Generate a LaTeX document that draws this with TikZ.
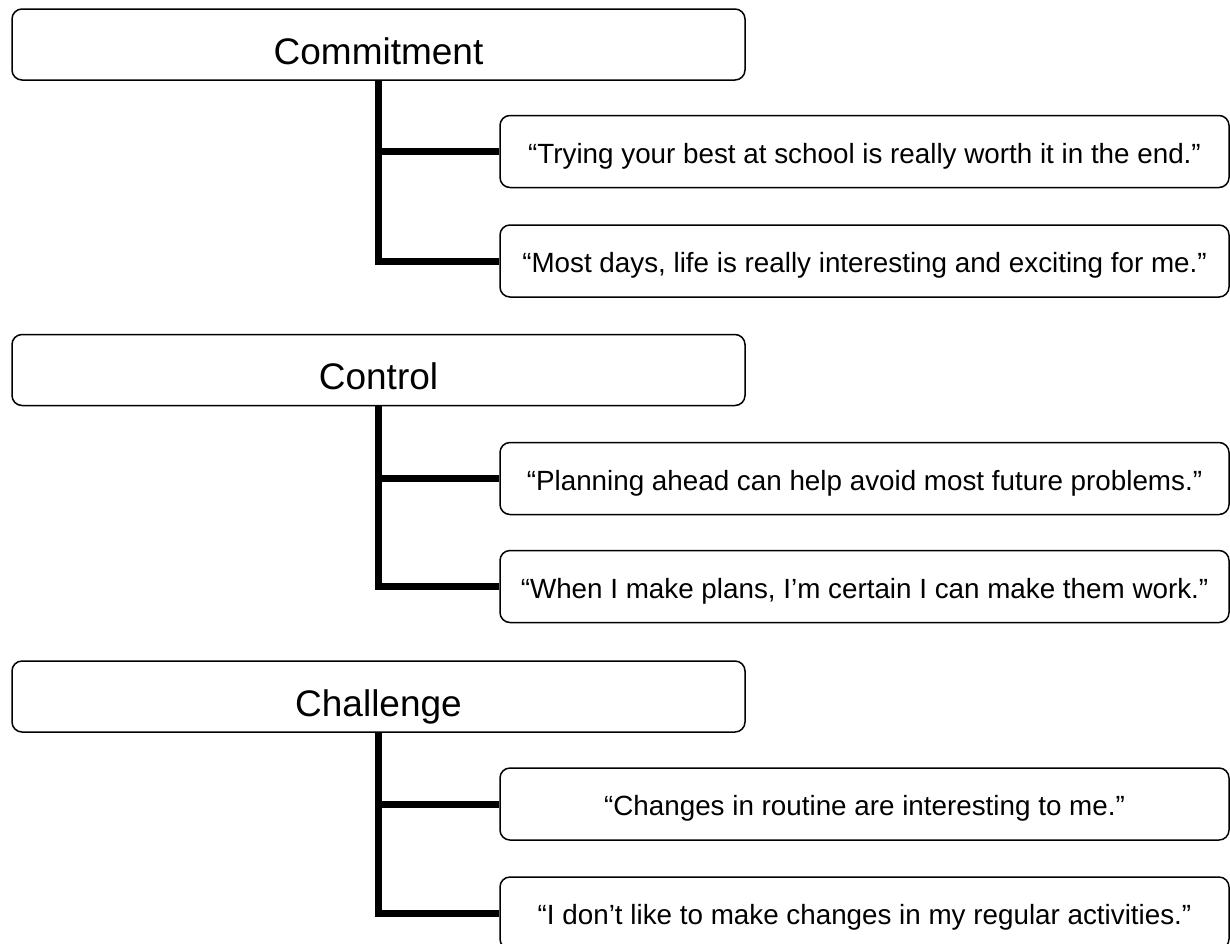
\documentclass[tikz,border=0pt]{standalone}
\usepackage{fontspec}
\setmainfont{Liberation Sans}
\begin{document}
\begin{tikzpicture}[x=1pt,y=-1pt,
  hdr/.style={draw, line width=1.5pt, rounded corners=10pt, minimum width=733pt,
    minimum height=71pt, inner sep=0pt, font=\fontsize{37}{44}\selectfont,
    text height=39pt, text depth=0pt},
  itm/.style={draw, line width=1.5pt, rounded corners=10pt, minimum width=729pt,
    minimum height=72pt, inner sep=0pt, font=\fontsize{27.8}{33}\selectfont,
    text height=23pt, text depth=0pt},
  conn/.style={line width=7pt, line join=miter}]
\useasboundingbox (0,0) rectangle (1230,943);
\begin{scope}
\clip (0,0) rectangle (1230,943);
% Commitment
\node[hdr] (h1) at (378.5,44.5) {Commitment};
\node[itm] (c11) at (864.5,151.5) {“Trying your best at school is really worth it in the end.”};
\node[itm] (c12) at (864.5,261) {“Most days, life is really interesting and exciting for me.”};
\draw[conn] (h1.south) |- (c12.west);
\draw[conn] (h1.south |- c11.west) -- (c11.west);
% Control
\node[hdr] (h2) at (378.5,370) {Control};
\node[itm] (c21) at (864.5,478.5) {“Planning ahead can help avoid most future problems.”};
\node[itm] (c22) at (864.5,586.5) {“When I make plans, I’m certain I can make them work.”};
\draw[conn] (h2.south) |- (c22.west);
\draw[conn] (h2.south |- c21.west) -- (c21.west);
% Challenge
\node[hdr] (h3) at (378.5,696.5) {Challenge};
\node[itm] (c31) at (864.5,804) {“Changes in routine are interesting to me.”};
\node[itm] (c32) at (864.5,913) {“I don’t like to make changes in my regular activities.”};
\draw[conn] (h3.south) |- (c32.west);
\draw[conn] (h3.south |- c31.west) -- (c31.west);
\end{scope}
\end{tikzpicture}
\end{document}
